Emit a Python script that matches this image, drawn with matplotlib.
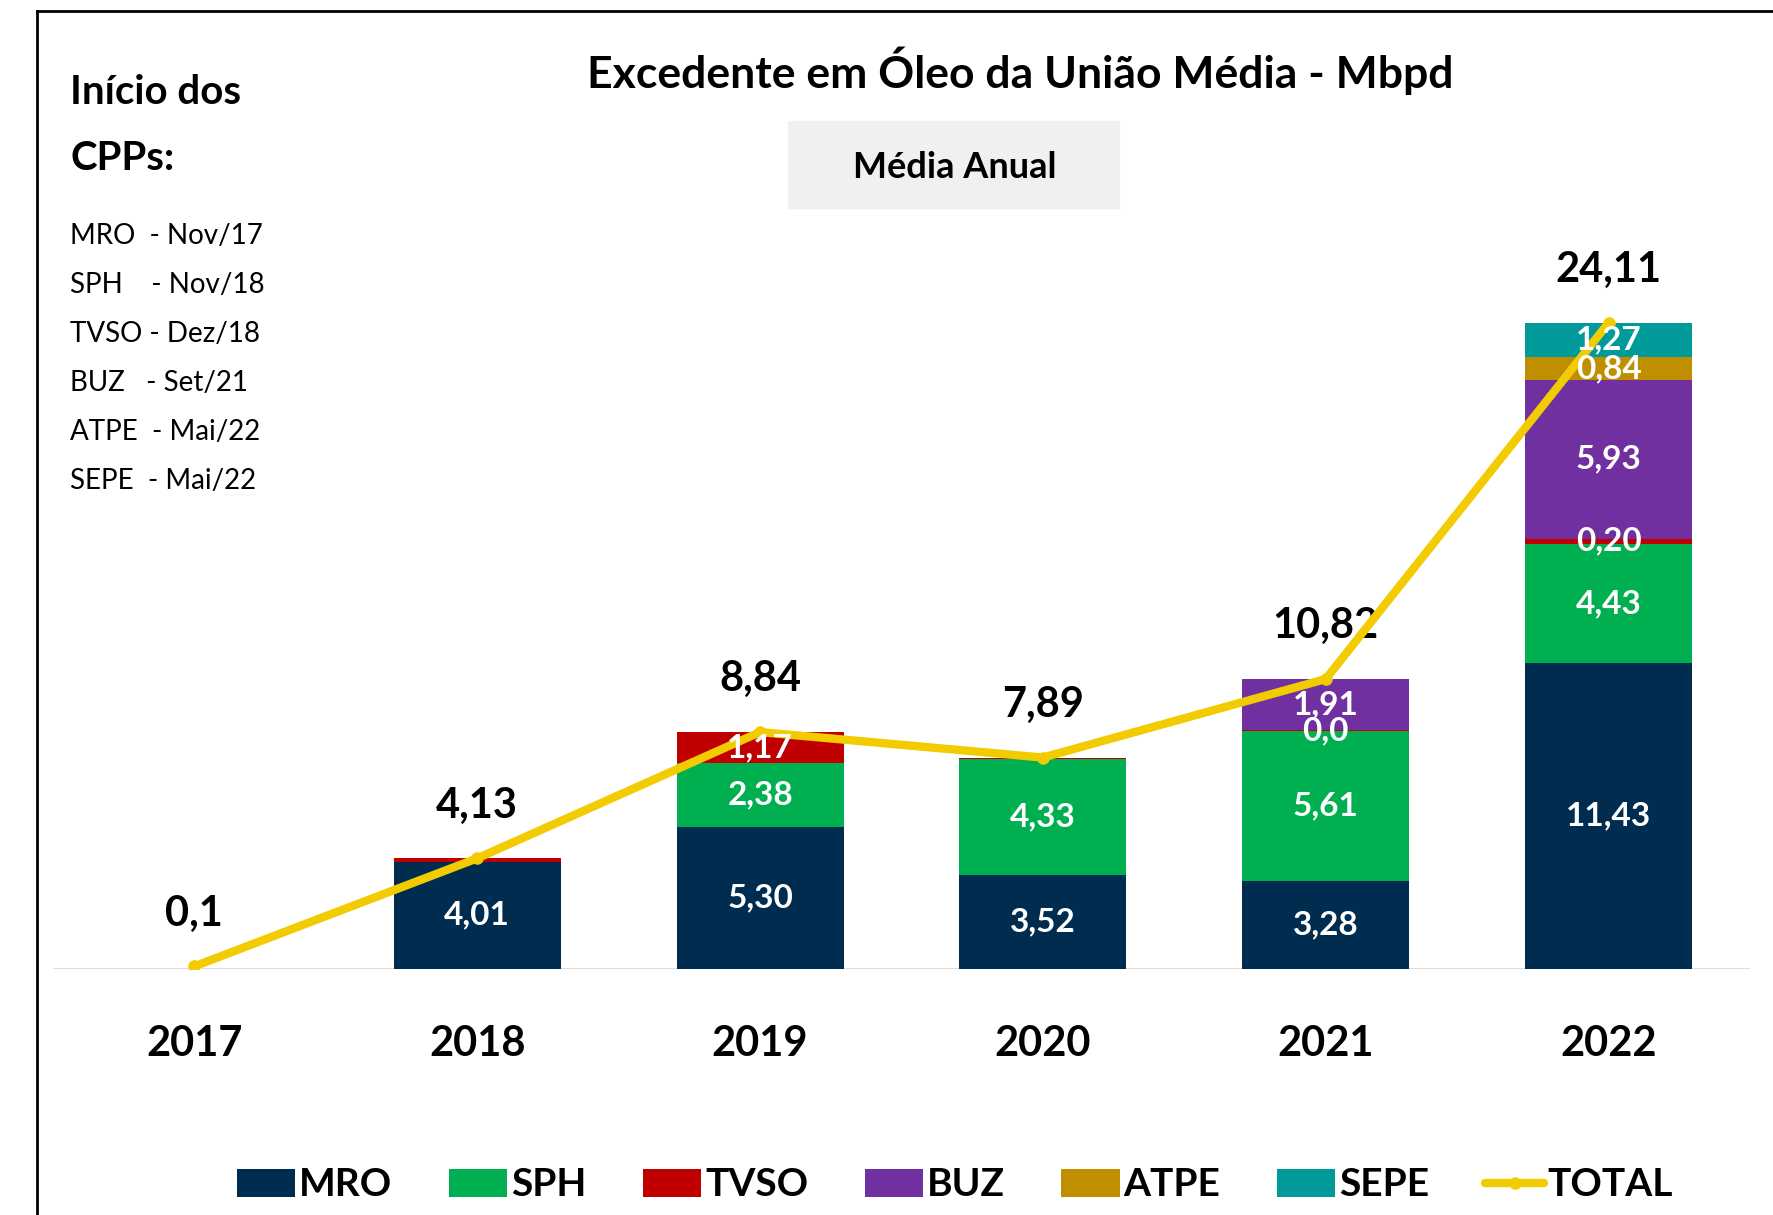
import matplotlib.pyplot as plt
import matplotlib.patches as mpatches
import matplotlib.lines as mlines
import numpy as np

plt.rcParams['font.family'] = ['Lato', 'DejaVu Sans']

years = ['2017', '2018', '2019', '2020', '2021', '2022']
series = ['MRO', 'SPH', 'TVSO', 'BUZ', 'ATPE', 'SEPE']
colors = ['#002D4F', '#00B050', '#C00000', '#7030A0', '#BF8F00', '#009A9A']

mro = [0.00, 4.01, 5.30, 3.52, 3.28, 11.43]
sph = [0.00, 0.00, 2.38, 4.33, 5.61, 4.43]
tvso = [0.00, 0.12, 1.17, 0.04, 0.02, 0.20]
buz = [0.00, 0.00, 0.00, 0.00, 1.91, 5.93]
atpe = [0.00, 0.00, 0.00, 0.00, 0.00, 0.84]
sepe = [0.00, 0.00, 0.00, 0.00, 0.00, 1.27]

mro_lbl = ['', '4,01', '5,30', '3,52', '3,28', '11,43']
sph_lbl = ['', '', '2,38', '4,33', '5,61', '4,43']
tvso_lbl = ['', '', '1,17', '', '0,0', '0,20']
buz_lbl = ['', '', '', '', '1,91', '5,93']
atpe_lbl = ['', '', '', '', '', '0,84']
sepe_lbl = ['', '', '', '', '', '1,27']

total = [0.10, 4.13, 8.84, 7.89, 10.82, 24.11]
total_lbl = ['0,1', '4,13', '8,84', '7,89', '10,82', '24,11']

cpp_lines = ['MRO  - Nov/17', 'SPH    - Nov/18', 'TVSO - Dez/18',
             'BUZ   - Set/21', 'ATPE  - Mai/22', 'SEPE  - Mai/22']

values = [mro, sph, tvso, buz, atpe, sepe]
labels = [mro_lbl, sph_lbl, tvso_lbl, buz_lbl, atpe_lbl, sepe_lbl]

W, H = 1773, 1215
fig = plt.figure(figsize=(W / 100, H / 100), dpi=100)
ax = fig.add_axes([53 / W, 246 / H, 1697 / W, 804 / H])
ax.set_facecolor('none')

x = np.arange(len(years))
bottom = np.zeros(len(years))
for name, vals, lbls, c in zip(series, values, labels, colors):
    vals = np.array(vals)
    ax.bar(x, vals, width=0.59, bottom=bottom, color=c, label=name, zorder=2)
    for xi, b, v, t in zip(x, bottom, vals, lbls):
        if t:
            ax.text(xi, b + v / 2, t, ha='center', va='center', color='white',
                    fontsize=24, fontweight='bold', zorder=5)
    bottom += vals

ax.plot(x, total, color='#F2CC00', lw=6, marker='o', markersize=8,
        label='TOTAL', zorder=4, solid_capstyle='round')
for xi, v, t in zip(x, total, total_lbl):
    ax.annotate(t, (xi, v), xytext=(0, 38), textcoords='offset points',
                ha='center', va='center', fontsize=30, fontweight='bold')

ax.axhline(0, color='#d9d9d9', lw=2, zorder=1)
ax.set_xlim(-0.5, 5.5)
ax.set_ylim(0, 30)
ax.set_xticks(x)
ax.set_xticklabels(years, fontsize=30, fontweight='bold')
ax.tick_params(axis='x', length=0, pad=40)
ax.set_yticks([])
for s in ax.spines.values():
    s.set_visible(False)

# frame (left and top edges visible)
fig.add_artist(mlines.Line2D([37 / W, 37 / W], [0, 1 - 11 / H], color='black', lw=2))
fig.add_artist(mlines.Line2D([37 / W, 1], [1 - 11 / H, 1 - 11 / H], color='black', lw=2))

fig.text(1020 / W, 1 - 71 / H, 'Excedente em Óleo da União Média - Mbpd',
         ha='center', va='center', fontsize=32, fontweight='bold')
fig.add_artist(mpatches.Rectangle((788 / W, 1 - 208 / H), 331 / W, 87 / H,
                                  transform=fig.transFigure, color='#F0F0F0', zorder=0))
fig.text(955 / W, 1 - 168 / H, 'Média Anual', ha='center', va='center',
         fontsize=26, fontweight='bold')

fig.text(70 / W, 1 - 92 / H, 'Início dos', ha='left', va='center',
         fontsize=29, fontweight='bold')
fig.text(70 / W, 1 - 158 / H, 'CPPs:', ha='left', va='center',
         fontsize=29, fontweight='bold')
for i, t in enumerate(cpp_lines):
    fig.text(70 / W, 1 - (236 + i * 49) / H, t, ha='left', va='center', fontsize=20)

handles, lbls = ax.get_legend_handles_labels()
handles = handles[1:] + handles[:1]
lbls = lbls[1:] + lbls[:1]
fig.legend(handles, lbls, loc='center', bbox_to_anchor=(955 / W, 1 - 1185 / H),
           ncol=7, frameon=False, prop={'size': 28, 'weight': 'bold'},
           handlelength=1.5, handleheight=0.72, handletextpad=0.1,
           columnspacing=1.45)

fig.savefig('out.png', dpi=100)
